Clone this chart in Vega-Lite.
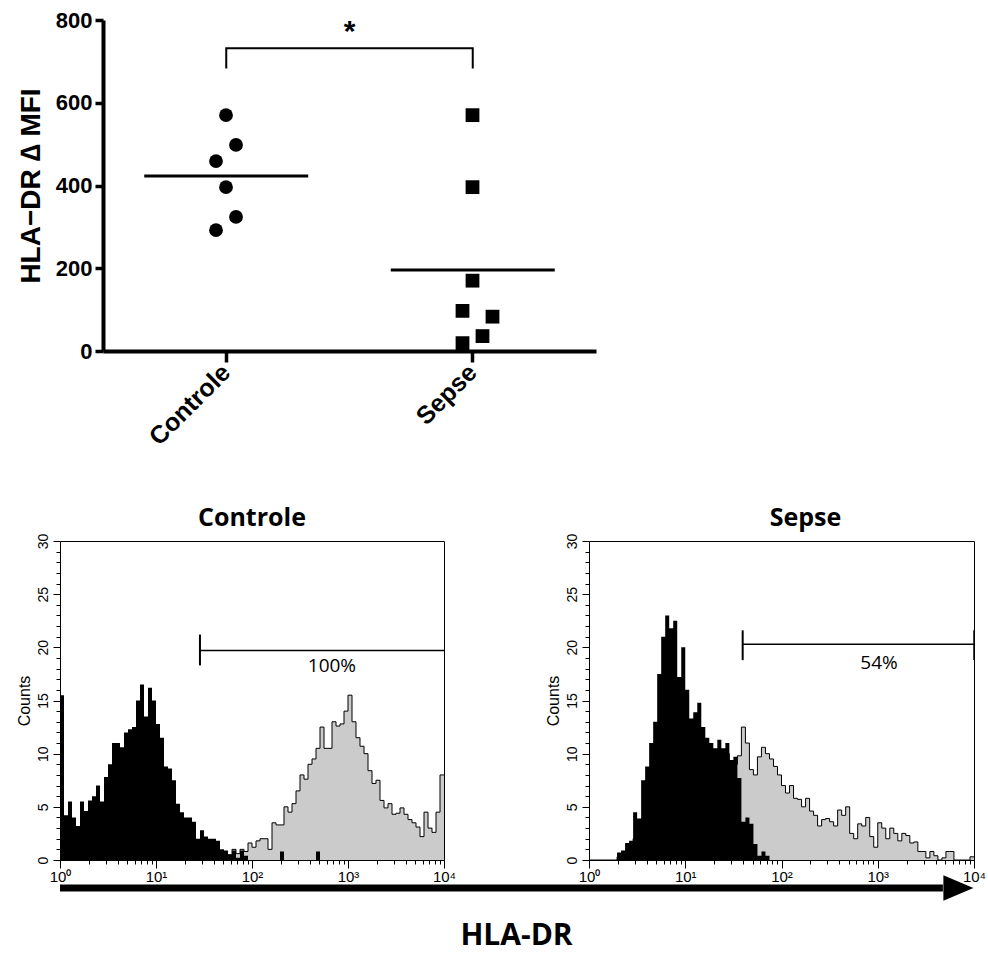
{
  "$schema": "https://vega.github.io/schema/vega-lite/v6.json",
  "background": "white",
  "padding": {"left": 15, "top": 9, "right": 5, "bottom": 5},
  "config": {
    "view": {"stroke": null},
    "font": "Liberation Sans",
    "axis": {"grid": false, "domainColor": "black", "tickColor": "black", "labelColor": "black", "titleColor": "black"}
  },
  "datasets": {
    "mfi": [
      {"group": "Controle", "value": 570, "col": 0},
      {"group": "Controle", "value": 498, "col": 1},
      {"group": "Controle", "value": 459, "col": -1},
      {"group": "Controle", "value": 396, "col": 0},
      {"group": "Controle", "value": 324, "col": 1},
      {"group": "Controle", "value": 292, "col": -1},
      {"group": "Sepse", "value": 570, "col": 0},
      {"group": "Sepse", "value": 396, "col": 0},
      {"group": "Sepse", "value": 170, "col": 0},
      {"group": "Sepse", "value": 97, "col": -1},
      {"group": "Sepse", "value": 83, "col": 2},
      {"group": "Sepse", "value": 36, "col": 1},
      {"group": "Sepse", "value": 19, "col": -1}
    ],
    "bracket": [
      {"group": "Controle", "value": 683, "o": 1},
      {"group": "Controle", "value": 732, "o": 2},
      {"group": "Sepse", "value": 732, "o": 3},
      {"group": "Sepse", "value": 683, "o": 4}
    ],
    "signif": [{"group": "Sepse", "value": 772, "label": "*"}],
    "gates": [
      {"panel": "Controle", "x1": 28.7, "x2": 10000, "y": 19.7, "ylo": 18.3, "yhi": 21.2, "label": "100%", "lx": 680, "ly": 18.2},
      {"panel": "Sepse", "x1": 39.5, "x2": 10000, "y": 20.3, "ylo": 18.8, "yhi": 21.6, "label": "54%", "lx": 1030, "ly": 18.5}
    ],
    "arrow": [{"start": 0, "end": 0.967, "head": 0.984}],
    "hist": [
      {"x": 1, "ci": 15.5, "cg": 0, "si": 0, "sg": 0},
      {"x": 1.1007, "ci": 4.2, "cg": 0, "si": 0, "sg": 0},
      {"x": 1.2115, "ci": 5.5, "cg": 0, "si": 0, "sg": 0},
      {"x": 1.3335, "ci": 4.0, "cg": 0, "si": 0, "sg": 0},
      {"x": 1.4678, "ci": 3.2, "cg": 0, "si": 0, "sg": 0},
      {"x": 1.6156, "ci": 5.5, "cg": 0, "si": 0, "sg": 0},
      {"x": 1.7783, "ci": 4.6, "cg": 0, "si": 0, "sg": 0},
      {"x": 1.9573, "ci": 5.6, "cg": 0, "si": 0.7, "sg": 0.3},
      {"x": 2.1544, "ci": 6.0, "cg": 0, "si": 0.9, "sg": 0.5},
      {"x": 2.3714, "ci": 7.0, "cg": 0, "si": 1.6, "sg": 0.8},
      {"x": 2.6102, "ci": 5.5, "cg": 0, "si": 1.8, "sg": 1.0},
      {"x": 2.873, "ci": 7.8, "cg": 0, "si": 4.5, "sg": 2.0},
      {"x": 3.1623, "ci": 9.0, "cg": 0, "si": 3.9, "sg": 2.0},
      {"x": 3.4807, "ci": 11.0, "cg": 0, "si": 7.5, "sg": 3.5},
      {"x": 3.8312, "ci": 11.0, "cg": 0, "si": 8.8, "sg": 4.0},
      {"x": 4.217, "ci": 10.6, "cg": 0, "si": 11.0, "sg": 5.0},
      {"x": 4.6416, "ci": 12.0, "cg": 0, "si": 13.0, "sg": 6.0},
      {"x": 5.109, "ci": 12.3, "cg": 0, "si": 17.5, "sg": 7.5},
      {"x": 5.6234, "ci": 12.5, "cg": 0, "si": 21.0, "sg": 9.0},
      {"x": 6.1897, "ci": 15.0, "cg": 0, "si": 23.0, "sg": 10.0},
      {"x": 6.8129, "ci": 16.5, "cg": 0, "si": 21.8, "sg": 10.0},
      {"x": 7.4989, "ci": 13.5, "cg": 0, "si": 22.5, "sg": 10.5},
      {"x": 8.254, "ci": 16.2, "cg": 0, "si": 17.2, "sg": 9.0},
      {"x": 9.0852, "ci": 15.0, "cg": 0, "si": 20.0, "sg": 10.0},
      {"x": 10, "ci": 12.8, "cg": 0, "si": 16.0, "sg": 9.0},
      {"x": 11.007, "ci": 11.5, "cg": 0, "si": 13.3, "sg": 8.5},
      {"x": 12.115, "ci": 8.8, "cg": 0, "si": 13.9, "sg": 9.0},
      {"x": 13.335, "ci": 8.6, "cg": 0, "si": 14.8, "sg": 9.5},
      {"x": 14.678, "ci": 7.5, "cg": 0, "si": 12.5, "sg": 9.0},
      {"x": 16.156, "ci": 5.3, "cg": 0, "si": 11.5, "sg": 9.0},
      {"x": 17.783, "ci": 4.5, "cg": 0, "si": 11.0, "sg": 9.0},
      {"x": 19.573, "ci": 4.0, "cg": 0, "si": 10.5, "sg": 9.0},
      {"x": 21.544, "ci": 4.0, "cg": 0, "si": 11.3, "sg": 9.5},
      {"x": 23.714, "ci": 3.6, "cg": 0, "si": 10.5, "sg": 9.5},
      {"x": 26.102, "ci": 2.0, "cg": 0, "si": 11.0, "sg": 10.0},
      {"x": 28.73, "ci": 2.8, "cg": 0, "si": 9.4, "sg": 9.0},
      {"x": 31.623, "ci": 2.2, "cg": 0, "si": 9.7, "sg": 9.0},
      {"x": 34.807, "ci": 2.0, "cg": 0, "si": 7.7, "sg": 9.8},
      {"x": 38.312, "ci": 2.0, "cg": 0, "si": 3.6, "sg": 12.5},
      {"x": 42.17, "ci": 1.8, "cg": 0, "si": 4.0, "sg": 11.0},
      {"x": 46.416, "ci": 1.0, "cg": 0, "si": 3.4, "sg": 8.5},
      {"x": 51.09, "ci": 0.9, "cg": 0, "si": 1.5, "sg": 8.0},
      {"x": 56.234, "ci": 0.5, "cg": 0.5, "si": 0.4, "sg": 9.7},
      {"x": 61.897, "ci": 0.9, "cg": 1.0, "si": 0.8, "sg": 10.6},
      {"x": 68.129, "ci": 0.2, "cg": 0.6, "si": 0.4, "sg": 10.0},
      {"x": 74.989, "ci": 0.9, "cg": 1.0, "si": 0, "sg": 9.5},
      {"x": 82.54, "ci": 0.4, "cg": 0.8, "si": 0, "sg": 8.8},
      {"x": 90.852, "ci": 0, "cg": 1.6, "si": 0, "sg": 8.0},
      {"x": 100, "ci": 0, "cg": 1.2, "si": 0, "sg": 7.0},
      {"x": 110.07, "ci": 0, "cg": 1.8, "si": 0, "sg": 6.3},
      {"x": 121.15, "ci": 0, "cg": 2.0, "si": 0, "sg": 7.0},
      {"x": 133.35, "ci": 0, "cg": 2.0, "si": 0, "sg": 5.8},
      {"x": 146.78, "ci": 0, "cg": 1.0, "si": 0, "sg": 5.7},
      {"x": 161.56, "ci": 0, "cg": 3.5, "si": 0, "sg": 5.0},
      {"x": 177.83, "ci": 0, "cg": 3.3, "si": 0, "sg": 5.8},
      {"x": 195.73, "ci": 0.8, "cg": 3.3, "si": 0, "sg": 4.6},
      {"x": 215.44, "ci": 0, "cg": 5.0, "si": 0, "sg": 4.2},
      {"x": 237.14, "ci": 0, "cg": 4.5, "si": 0, "sg": 3.2},
      {"x": 261.02, "ci": 0, "cg": 5.3, "si": 0, "sg": 3.8},
      {"x": 287.3, "ci": 0, "cg": 6.5, "si": 0, "sg": 3.9},
      {"x": 316.23, "ci": 0, "cg": 8.0, "si": 0, "sg": 3.6},
      {"x": 348.07, "ci": 0, "cg": 7.6, "si": 0, "sg": 3.2},
      {"x": 383.12, "ci": 0, "cg": 9.0, "si": 0, "sg": 4.7},
      {"x": 421.7, "ci": 0, "cg": 9.5, "si": 0, "sg": 4.2},
      {"x": 464.16, "ci": 0.8, "cg": 10.5, "si": 0, "sg": 5.0},
      {"x": 510.9, "ci": 0, "cg": 12.5, "si": 0, "sg": 2.5},
      {"x": 562.34, "ci": 0, "cg": 10.5, "si": 0, "sg": 2.0},
      {"x": 618.97, "ci": 0, "cg": 10.5, "si": 0, "sg": 3.4},
      {"x": 681.29, "ci": 0, "cg": 13.0, "si": 0, "sg": 3.2},
      {"x": 749.89, "ci": 0, "cg": 12.6, "si": 0, "sg": 4.0},
      {"x": 825.4, "ci": 0, "cg": 12.8, "si": 0, "sg": 2.2},
      {"x": 908.52, "ci": 0, "cg": 14.0, "si": 0, "sg": 1.2},
      {"x": 1000, "ci": 0, "cg": 15.5, "si": 0, "sg": 3.5},
      {"x": 1100.7, "ci": 0, "cg": 13.0, "si": 0, "sg": 3.0},
      {"x": 1211.5, "ci": 0, "cg": 11.5, "si": 0, "sg": 2.0},
      {"x": 1333.5, "ci": 0, "cg": 10.7, "si": 0, "sg": 3.0},
      {"x": 1467.8, "ci": 0, "cg": 10.0, "si": 0, "sg": 2.5},
      {"x": 1615.6, "ci": 0, "cg": 8.4, "si": 0, "sg": 1.8},
      {"x": 1778.3, "ci": 0, "cg": 7.2, "si": 0, "sg": 2.5},
      {"x": 1957.3, "ci": 0, "cg": 7.5, "si": 0, "sg": 2.3},
      {"x": 2154.4, "ci": 0, "cg": 5.6, "si": 0, "sg": 1.6},
      {"x": 2371.4, "ci": 0, "cg": 4.9, "si": 0, "sg": 1.7},
      {"x": 2610.2, "ci": 0, "cg": 5.3, "si": 0, "sg": 0.8},
      {"x": 2873, "ci": 0, "cg": 4.3, "si": 0, "sg": 0.8},
      {"x": 3162.3, "ci": 0, "cg": 4.4, "si": 0, "sg": 0.2},
      {"x": 3480.7, "ci": 0, "cg": 4.9, "si": 0, "sg": 0.8},
      {"x": 3831.2, "ci": 0, "cg": 4.3, "si": 0, "sg": 0.4},
      {"x": 4217, "ci": 0, "cg": 3.8, "si": 0, "sg": 0},
      {"x": 4641.6, "ci": 0, "cg": 3.5, "si": 0, "sg": 0.2},
      {"x": 5109, "ci": 0, "cg": 3.1, "si": 0, "sg": 0.8},
      {"x": 5623.4, "ci": 0, "cg": 2.2, "si": 0, "sg": 0.8},
      {"x": 6189.7, "ci": 0, "cg": 4.5, "si": 0, "sg": 0},
      {"x": 6812.9, "ci": 0, "cg": 3.0, "si": 0, "sg": 0},
      {"x": 7498.9, "ci": 0, "cg": 2.6, "si": 0, "sg": 0},
      {"x": 8254, "ci": 0, "cg": 4.5, "si": 0, "sg": 0},
      {"x": 9085.2, "ci": 0, "cg": 8.0, "si": 0, "sg": 0.3},
      {"x": 10000, "ci": 0, "cg": 8.0, "si": 0, "sg": 0.3}
    ]
  },
  "concat": [
    {
      "width": 539,
      "height": 331,
      "encoding": {
        "x": {
          "field": "group", "type": "nominal",
          "scale": {"type": "band", "domain": ["Controle", "Sepse"], "paddingInner": 0, "paddingOuter": 0, "range": [43, 536]},
          "axis": {"title": null, "labelAngle": -45, "labelAlign": "right", "labelBaseline": "middle", "labelFontSize": 25, "labelFontWeight": "bold", "labelPadding": 6, "tickSize": 11, "tickWidth": 3.5, "domainWidth": 4}
        },
        "y": {
          "field": "value", "type": "quantitative",
          "scale": {"domain": [0, 800], "nice": false},
          "axis": {"offset": -43, "values": [0, 200, 400, 600, 800], "title": "HLA−DR ∆ MFI", "titleFontSize": 28, "titleFontWeight": "bold", "titlePadding": 10, "labelFontSize": 22, "labelFontWeight": "bold", "tickSize": 8, "tickWidth": 3.5, "domainWidth": 4, "labelPadding": 3}
        }
      },
      "layer": [
        {
          "data": {"name": "mfi"},
          "mark": {"type": "point", "filled": true, "opacity": 1, "color": "black", "size": 190},
          "encoding": {
            "xOffset": {"field": "col", "type": "ordinal", "scale": {"type": "point", "domain": [-1, 0, 1, 2], "range": [113, 143], "padding": 0}},
            "shape": {"field": "group", "type": "nominal", "scale": {"domain": ["Controle", "Sepse"], "range": ["circle", "square"]}, "legend": null}
          }
        },
        {
          "data": {"name": "mfi"},
          "mark": {"type": "tick", "orient": "horizontal", "size": 164, "thickness": 3, "color": "black"},
          "encoding": {"y": {"field": "value", "type": "quantitative", "aggregate": "mean"}}
        },
        {
          "data": {"name": "bracket"},
          "mark": {"type": "line", "color": "black", "strokeWidth": 2},
          "encoding": {"order": {"field": "o", "type": "quantitative"}}
        },
        {
          "data": {"name": "signif"},
          "mark": {"type": "text", "fontSize": 30, "fontWeight": "bold", "baseline": "middle", "align": "center", "color": "black"},
          "encoding": {
            "x": {"field": "group", "type": "nominal", "bandPosition": 0},
            "text": {"field": "label"}
          }
        }
      ]
    },
    {
      "concat": [
        {
          "hconcat": [
            {
              "title": {"text": "Controle", "font": "Open Sans", "fontSize": 25, "fontWeight": "bold", "offset": 2},
              "width": 384,
              "height": 319,
              "view": {"stroke": "black", "strokeWidth": 1},
              "resolve": {"axis": {"x": "independent", "y": "independent"}},
              "layer": [
                {
                  "data": {"name": "hist"},
                  "mark": {"type": "area", "interpolate": "step-after", "color": "#cbcbcb", "opacity": 1, "line": {"color": "black", "strokeWidth": 1}},
                  "encoding": {
                    "x": {
                      "field": "x", "type": "quantitative",
                      "scale": {"type": "log", "domain": [1, 10000]},
                      "axis": {
                        "orient": "bottom", "title": null,
                        "values": [1, 10, 100, 1000, 10000],
                        "labelExpr": "datum.value === 1 ? '10⁰' : datum.value === 10 ? '10¹' : datum.value === 100 ? '10²' : datum.value === 1000 ? '10³' : '10⁴'",
                        "tickSize": 8, "labelFontSize": 15, "labelOverlap": false, "labelFlush": false, "labelBound": false, "labelPadding": 1
                      }
                    },
                    "y": {
                      "field": "cg", "type": "quantitative",
                      "scale": {"domain": [0, 30], "nice": false},
                      "axis": {
                        "orient": "left", "title": "Counts", "titleFontSize": 16, "titleFontWeight": "normal", "titlePadding": 4,
                        "values": [0, 5, 10, 15, 20, 25, 30],
                        "tickSize": 7,
                        "labelAngle": -90, "labelAlign": "center", "labelBaseline": "bottom", "labelFontSize": 14, "labelPadding": 3, "labelOverlap": false
                      }
                    }
                  }
                },
                {
                  "data": {"name": "hist"},
                  "mark": {"type": "area", "interpolate": "step-after", "color": "black", "opacity": 1},
                  "encoding": {
                    "x": {
                      "field": "x", "type": "quantitative",
                      "axis": {"orient": "bottom", "title": null, "domain": false, "labels": false, "tickSize": 4,
                        "values": [2, 3, 4, 5, 6, 7, 8, 9, 20, 30, 40, 50, 60, 70, 80, 90, 200, 300, 400, 500, 600, 700, 800, 900, 2000, 3000, 4000, 5000, 6000, 7000, 8000, 9000]}
                    },
                    "y": {
                      "field": "ci", "type": "quantitative",
                      "axis": {"orient": "left", "title": null, "domain": false, "labels": false, "tickSize": 4,
                        "values": [1, 2, 3, 4, 6, 7, 8, 9, 11, 12, 13, 14, 16, 17, 18, 19, 21, 22, 23, 24, 26, 27, 28, 29]}
                    }
                  }
                },
                {
                  "data": {"name": "gates"},
                  "transform": [{"filter": "datum.panel === 'Controle'"}],
                  "mark": {"type": "rule", "color": "black", "strokeWidth": 1.5},
                  "encoding": {"x": {"field": "x1", "type": "quantitative", "axis": null}, "x2": {"field": "x2"}, "y": {"field": "y", "type": "quantitative", "axis": null}}
                },
                {
                  "data": {"name": "gates"},
                  "transform": [{"filter": "datum.panel === 'Controle'"}],
                  "mark": {"type": "rule", "color": "black", "strokeWidth": 2},
                  "encoding": {"x": {"field": "x1", "type": "quantitative", "axis": null}, "y": {"field": "ylo", "type": "quantitative", "axis": null}, "y2": {"field": "yhi"}}
                },
                {
                  "data": {"name": "gates"},
                  "transform": [{"filter": "datum.panel === 'Controle'"}],
                  "mark": {"type": "text", "font": "Open Sans", "fontSize": 19, "baseline": "middle", "align": "center", "color": "black"},
                  "encoding": {"x": {"field": "lx", "type": "quantitative", "axis": null}, "y": {"field": "ly", "type": "quantitative", "axis": null}, "text": {"field": "label"}}
                }
              ]
            },
            {
              "title": {"text": "Sepse", "font": "Open Sans", "fontSize": 25, "fontWeight": "bold", "offset": 2, "dx": 24},
              "width": 385,
              "height": 319,
              "view": {"stroke": "black", "strokeWidth": 1},
              "resolve": {"axis": {"x": "independent", "y": "independent"}},
              "layer": [
                {
                  "data": {"name": "hist"},
                  "mark": {"type": "area", "interpolate": "step-after", "color": "#cbcbcb", "opacity": 1, "line": {"color": "black", "strokeWidth": 1}},
                  "encoding": {
                    "x": {
                      "field": "x", "type": "quantitative",
                      "scale": {"type": "log", "domain": [1, 10000]},
                      "axis": {
                        "orient": "bottom", "title": null,
                        "values": [1, 10, 100, 1000, 10000],
                        "labelExpr": "datum.value === 1 ? '10⁰' : datum.value === 10 ? '10¹' : datum.value === 100 ? '10²' : datum.value === 1000 ? '10³' : '10⁴'",
                        "tickSize": 8, "labelFontSize": 15, "labelOverlap": false, "labelFlush": false, "labelBound": false, "labelPadding": 1
                      }
                    },
                    "y": {
                      "field": "sg", "type": "quantitative",
                      "scale": {"domain": [0, 30], "nice": false},
                      "axis": {
                        "orient": "left", "title": "Counts", "titleFontSize": 16, "titleFontWeight": "normal", "titlePadding": 4,
                        "values": [0, 5, 10, 15, 20, 25, 30],
                        "tickSize": 7,
                        "labelAngle": -90, "labelAlign": "center", "labelBaseline": "bottom", "labelFontSize": 14, "labelPadding": 3, "labelOverlap": false
                      }
                    }
                  }
                },
                {
                  "data": {"name": "hist"},
                  "mark": {"type": "area", "interpolate": "step-after", "color": "black", "opacity": 1},
                  "encoding": {
                    "x": {
                      "field": "x", "type": "quantitative",
                      "axis": {"orient": "bottom", "title": null, "domain": false, "labels": false, "tickSize": 4,
                        "values": [2, 3, 4, 5, 6, 7, 8, 9, 20, 30, 40, 50, 60, 70, 80, 90, 200, 300, 400, 500, 600, 700, 800, 900, 2000, 3000, 4000, 5000, 6000, 7000, 8000, 9000]}
                    },
                    "y": {
                      "field": "si", "type": "quantitative",
                      "axis": {"orient": "left", "title": null, "domain": false, "labels": false, "tickSize": 4,
                        "values": [1, 2, 3, 4, 6, 7, 8, 9, 11, 12, 13, 14, 16, 17, 18, 19, 21, 22, 23, 24, 26, 27, 28, 29]}
                    }
                  }
                },
                {
                  "data": {"name": "gates"},
                  "transform": [{"filter": "datum.panel === 'Sepse'"}],
                  "mark": {"type": "rule", "color": "black", "strokeWidth": 1.5},
                  "encoding": {"x": {"field": "x1", "type": "quantitative", "axis": null}, "x2": {"field": "x2"}, "y": {"field": "y", "type": "quantitative", "axis": null}}
                },
                {
                  "data": {"name": "gates"},
                  "transform": [{"filter": "datum.panel === 'Sepse'"}],
                  "mark": {"type": "rule", "color": "black", "strokeWidth": 2},
                  "encoding": {"x": {"field": "x1", "type": "quantitative", "axis": null}, "y": {"field": "ylo", "type": "quantitative", "axis": null}, "y2": {"field": "yhi"}}
                },
                {
                  "data": {"name": "gates"},
                  "transform": [{"filter": "datum.panel === 'Sepse'"}],
                  "mark": {"type": "rule", "color": "black", "strokeWidth": 1.5},
                  "encoding": {"x": {"field": "x2", "type": "quantitative", "axis": null}, "y": {"field": "ylo", "type": "quantitative", "axis": null}, "y2": {"field": "yhi"}}
                },
                {
                  "data": {"name": "gates"},
                  "transform": [{"filter": "datum.panel === 'Sepse'"}],
                  "mark": {"type": "text", "font": "Open Sans", "fontSize": 19, "baseline": "middle", "align": "center", "color": "black"},
                  "encoding": {"x": {"field": "lx", "type": "quantitative", "axis": null}, "y": {"field": "ly", "type": "quantitative", "axis": null}, "text": {"field": "label"}}
                }
              ]
            }
          ],
          "spacing": 87
        },
        {
          "width": 913,
          "height": 26,
          "data": {"name": "arrow"},
          "title": {"text": "HLA-DR", "orient": "bottom", "font": "Open Sans", "fontSize": 30, "fontWeight": "bold", "offset": 20},
          "encoding": {
            "y": {"datum": 0, "type": "quantitative", "scale": {"domain": [-1, 1]}, "axis": {"offset": 44, "domainColor": "white", "ticks": false, "labels": false, "title": null}}
          },
          "layer": [
            {
              "mark": {"type": "rule", "color": "black", "strokeWidth": 7},
              "encoding": {
                "x": {"field": "start", "type": "quantitative", "scale": {"domain": [0, 1]}, "axis": null},
                "x2": {"field": "end"}
              }
            },
            {
              "mark": {"type": "point", "shape": "M-1,-0.85L1,0L-1,0.85Z", "filled": true, "opacity": 1, "color": "black", "size": 900},
              "encoding": {"x": {"field": "head", "type": "quantitative"}}
            }
          ]
        }
      ],
      "columns": 1,
      "align": "none",
      "spacing": -10
    }
  ],
  "columns": 1,
  "align": "none",
  "spacing": 55
}
